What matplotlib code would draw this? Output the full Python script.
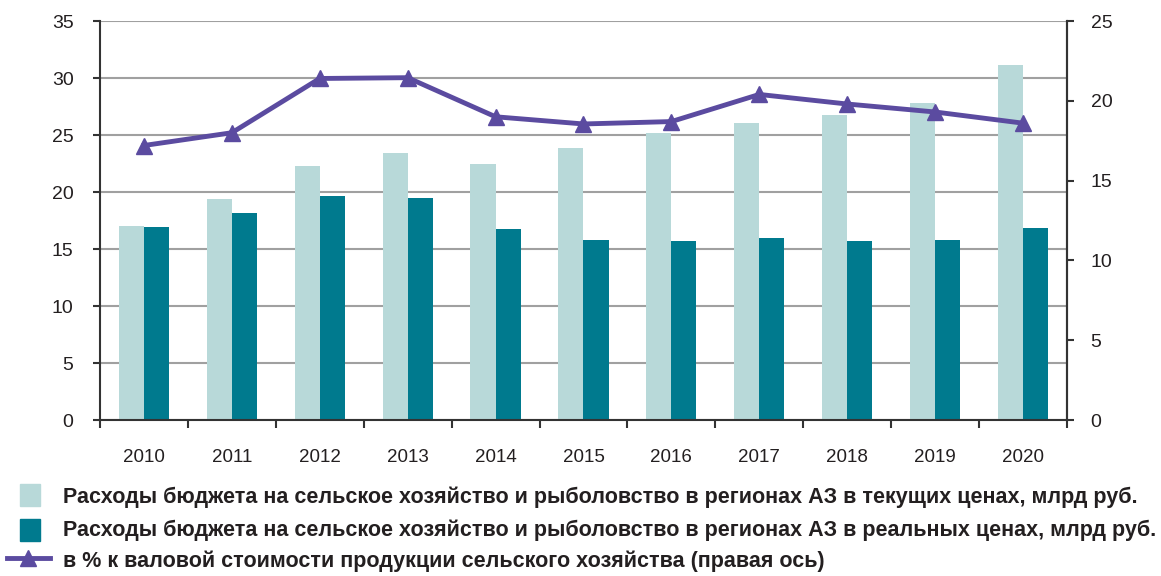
import numpy as np
import matplotlib.pyplot as plt
import matplotlib as mpl
from matplotlib.patches import Rectangle
from matplotlib.lines import Line2D

mpl.rcParams['font.family'] = ['Liberation Sans', 'DejaVu Sans']

LIGHT = '#b8d9d9'; DARK = '#007a8e'; PURPLE = '#5b4ba0'; GRID = '#a0a0a0'; TXT = '#231f20'

years = ['2010', '2011', '2012', '2013', '2014', '2015', '2016', '2017', '2018', '2019', '2020']
current = [17.0, 19.4, 22.3, 23.4, 22.5, 23.9, 25.2, 26.05, 26.8, 27.8, 31.1]
real = [16.9, 18.2, 19.65, 19.5, 16.75, 15.8, 15.7, 16.0, 15.7, 15.8, 16.85]
share = [17.2, 18.0, 21.4, 21.45, 19.0, 18.55, 18.7, 20.4, 19.8, 19.3, 18.6]

lab_cur = 'Расходы бюджета на сельское хозяйство и рыболовство в регионах АЗ в текущих ценах, млрд руб.'
lab_real = 'Расходы бюджета на сельское хозяйство и рыболовство в регионах АЗ в реальных ценах, млрд руб.'
lab_share = 'в % к валовой стоимости продукции сельского хозяйства (правая ось)'

fig = plt.figure(figsize=(11.61, 5.76), dpi=100)
ax = fig.add_axes([0.0861, 0.2708, 0.9190 - 0.0861, 0.9635 - 0.2708])
x = np.arange(len(years))
w = 0.285
ax.bar(x - w/2, current, w, color=LIGHT, zorder=2)
ax.bar(x + w/2, real, w, color=DARK, zorder=2)
ax.set_xlim(-0.5, len(years) - 0.5)
ax.set_ylim(0, 35)
ax.set_yticks(range(0, 36, 5))
ax.grid(axis='y', color=GRID, linewidth=1.5, zorder=0)
ax.set_axisbelow(True)
ax.set_xticks(x)
ax.set_xticklabels(years)
ax.set_xticks(np.arange(-0.5, len(years)), minor=True)
ax.tick_params(axis='x', which='major', length=0, pad=21, labelsize=13.5, colors=TXT)
ax.tick_params(axis='x', which='minor', length=6, width=1.5, direction='out', color='#333333')
ax.tick_params(axis='y', length=5, width=1.5, labelsize=14, colors=TXT, color='#333333', pad=14)
ax.spines['top'].set_visible(False)
for s in ['left', 'bottom', 'right']:
    ax.spines[s].set_color('#333333'); ax.spines[s].set_linewidth(1.5)

ax2 = ax.twinx()
ax2.plot(x, share, color=PURPLE, linewidth=3.5, marker='^', markersize=12, zorder=3)
ax2.set_ylim(0, 25)
ax2.set_yticks(range(0, 26, 5))
ax2.tick_params(axis='y', length=5, width=1.5, labelsize=14, colors=TXT, color='#333333', pad=12)
for s in ['top', 'left', 'bottom']:
    ax2.spines[s].set_visible(False)
ax2.spines['right'].set_color('#333333'); ax2.spines['right'].set_linewidth(1.5)

# legend drawn by hand
W, H = 1161, 576
def fx(px): return px / W
def fy(py): return 1 - py / H
fig.patches.append(Rectangle((fx(20), fy(506)), 20 / W, 22 / H, color=LIGHT, transform=fig.transFigure))
fig.patches.append(Rectangle((fx(20), fy(541)), 20 / W, 22 / H, color=DARK, transform=fig.transFigure))
fig.lines.append(Line2D([fx(7), fx(50)], [fy(558), fy(558)], color=PURPLE, linewidth=3.5,
                        transform=fig.transFigure))
fig.lines.append(Line2D([fx(28)], [fy(558)], color=PURPLE, marker='^', markersize=12,
                        transform=fig.transFigure))
texts = []
for py, t in [(497, lab_cur), (530, lab_real), (561, lab_share)]:
    texts.append(fig.text(fx(63), fy(py), t, fontsize=11.5, fontweight='bold', color=TXT,
                          va='center', ha='left'))
# scale legend font so first row ends near x=1140
r = fig.canvas.get_renderer()
wpx = texts[0].get_window_extent(r).width
size = 11.5 * (1140 - 63) / wpx
for t in texts:
    t.set_fontsize(size)

plt.savefig('out.png', dpi=100)
